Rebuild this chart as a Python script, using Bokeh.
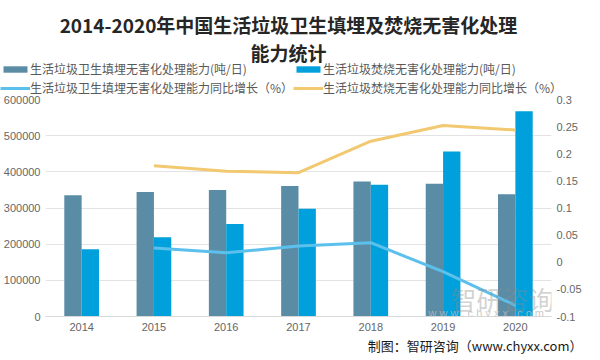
from bokeh.plotting import figure
from bokeh.layouts import column
from bokeh.models import (ColumnDataSource, Range1d, LinearAxis, FixedTicker,
                          NumeralTickFormatter, Legend, LegendItem, Label)
from bokeh.transform import dodge
from bokeh.embed import file_html
from bokeh.resources import INLINE

# ---- data ----
years = ["2014", "2015", "2016", "2017", "2018", "2019", "2020"]
landfill = [335316, 344136, 350103, 360524, 373498, 367013, 337848]
incineration = [185957, 219080, 255850, 298062, 364595, 456499, 567804]
growth_years = ["2015", "2016", "2017", "2018", "2019", "2020"]
landfill_growth = [0.0263, 0.0173, 0.0298, 0.0360, -0.0174, -0.0795]
incin_growth = [0.1781, 0.1678, 0.1650, 0.2232, 0.2521, 0.2438]
left_ticks = [0, 100000, 200000, 300000, 400000, 500000, 600000]
right_ticks = [-0.1, -0.05, 0, 0.05, 0.1, 0.15, 0.2, 0.25, 0.3]

title_line1 = "2014-2020年中国生活垃圾卫生填埋及焚烧无害化处理"
title_line2 = "能力统计"
legend_labels = ["生活垃圾卫生填埋无害化处理能力(吨/日)",
                 "生活垃圾焚烧无害化处理能力(吨/日)",
                 "生活垃圾卫生填埋无害化处理能力同比增长（%）",
                 "生活垃圾焚烧无害化处理能力同比增长（%）"]
footer = "制图：智研咨询（www.chyxx.com）"

C_LAND = "#5b8ca6"
C_INC = "#00a0dc"
C_LAND_L = "#5cc0ec"
C_INC_L = "#f2c870"
CJK = "Noto Sans CJK SC"
TICKFONT = "Liberation Sans"

W = 584
H_HEAD = 95
H_MAIN = 240
H_FOOT = 20


def bare(h):
    f = figure(width=W, height=h, x_range=Range1d(0, W), y_range=Range1d(0, h),
               output_backend="svg", toolbar_location=None, title=None,
               x_axis_type=None, y_axis_type=None)
    f.min_border = 0
    f.min_border_left = f.min_border_right = f.min_border_top = f.min_border_bottom = 0
    f.outline_line_color = None
    f.xgrid.grid_line_color = None
    f.ygrid.grid_line_color = None
    f.background_fill_color = "white"
    f.border_fill_color = "white"
    f.frame_align = False
    return f


# ---------------- header: title + legend ----------------
head = bare(H_HEAD)
for txt, yy in ((title_line1, 71), (title_line2, 43)):
    head.add_layout(Label(x=288, y=yy, x_units="screen", y_units="screen", text=txt,
                          text_align="center", text_baseline="middle",
                          text_font=CJK, text_font_style="bold",
                          text_font_size="19px", text_color="#262626"))

# legend proxies (zero-size marks, used only for the legend swatches)
proxy = ColumnDataSource(dict(x=[0], y=[0]))
h1 = head.vbar(x="x", top="y", width=0, source=proxy, fill_color=C_LAND, line_color=None)
h2 = head.vbar(x="x", top="y", width=0, source=proxy, fill_color=C_INC, line_color=None)
h3 = head.line(x="x", y="y", source=proxy, line_color=C_LAND_L, line_width=3)
h4 = head.line(x="x", y="y", source=proxy, line_color=C_INC_L, line_width=3)

legend = Legend(items=[LegendItem(label=legend_labels[0], renderers=[h1]),
                       LegendItem(label=legend_labels[1], renderers=[h2]),
                       LegendItem(label=legend_labels[2], renderers=[h3]),
                       LegendItem(label=legend_labels[3], renderers=[h4])],
                orientation="horizontal", ncols=2, location=(0, -2))
legend.glyph_width = 30
legend.glyph_height = 8
legend.label_standoff = 0
legend.label_height = 19
legend.label_text_font = CJK
legend.label_text_font_size = "12px"
legend.label_text_color = "#595959"
legend.spacing = 0
legend.padding = 0
legend.margin = 0
legend.border_line_color = None
legend.background_fill_alpha = 0
head.add_layout(legend, "center")

# ---------------- main chart ----------------
src = ColumnDataSource(dict(year=years, landfill=landfill, incineration=incineration))
gsrc = ColumnDataSource(dict(year=growth_years, lg=landfill_growth, ig=incin_growth))

p = figure(width=W, height=H_MAIN, x_range=years, y_range=Range1d(0, 600000),
           output_backend="svg", toolbar_location=None, title=None)
p.extra_y_ranges = {"pct": Range1d(-0.1, 0.3)}
p.min_border_left = 42
p.min_border_right = 30
p.min_border_top = 4
p.min_border_bottom = 19
p.outline_line_color = None
p.background_fill_color = "white"
p.border_fill_color = "white"

r1 = p.vbar(x=dodge("year", -0.12, range=p.x_range), top="landfill", width=0.24,
            source=src, fill_color=C_LAND, line_color=None)
r2 = p.vbar(x=dodge("year", 0.12, range=p.x_range), top="incineration", width=0.24,
            source=src, fill_color=C_INC, line_color=None)
r3 = p.line(x="year", y="lg", source=gsrc, y_range_name="pct",
            line_color=C_LAND_L, line_width=3)
r4 = p.line(x="year", y="ig", source=gsrc, y_range_name="pct",
            line_color=C_INC_L, line_width=3)

p.xgrid.grid_line_color = None
p.ygrid.ticker = FixedTicker(ticks=left_ticks)
p.ygrid.grid_line_color = "#e3e3e3"
p.ygrid.grid_line_width = 1

for ax in (p.xaxis[0], p.yaxis[0]):
    ax.major_tick_line_color = None
    ax.minor_tick_line_color = None
    ax.major_tick_out = 0
    ax.major_tick_in = 0
    ax.major_label_text_font = TICKFONT
    ax.major_label_text_font_size = "11px"
    ax.major_label_text_color = "#666666"

p.xaxis.axis_line_color = "#d9d9d9"
p.xaxis.major_label_standoff = 6
p.yaxis.axis_line_color = None
p.yaxis.ticker = FixedTicker(ticks=left_ticks)
p.yaxis.formatter = NumeralTickFormatter(format="0")
p.yaxis.major_label_standoff = 5

ax2 = LinearAxis(y_range_name="pct", ticker=FixedTicker(ticks=right_ticks),
                 formatter=NumeralTickFormatter(format="0.[00]"))
ax2.axis_line_color = None
ax2.major_tick_line_color = None
ax2.minor_tick_line_color = None
ax2.major_tick_out = 0
ax2.major_tick_in = 0
ax2.major_label_standoff = 5
ax2.major_label_text_font = TICKFONT
ax2.major_label_text_font_size = "11px"
ax2.major_label_text_color = "#666666"
p.add_layout(ax2, "right")

# watermark (inside the plot area)
p.add_layout(Label(x=405, y=18, x_units="screen", y_units="screen", text="智研咨询",
                   text_align="left", text_baseline="middle", text_font=CJK,
                   text_font_size="26px", text_color="#8c8c8c", text_alpha=0.4))
p.add_layout(Label(x=383, y=4, x_units="screen", y_units="screen",
                   text="w w w . c h y x x . c o m",
                   text_align="left", text_baseline="middle", text_font=TICKFONT,
                   text_font_size="11px", text_color="#bdbdbd", text_alpha=0.8))

# ---------------- footer ----------------
foot = bare(H_FOOT)
foot.add_layout(Label(x=582, y=10, x_units="screen", y_units="screen", text=footer,
                      text_align="right", text_baseline="middle", text_font=CJK,
                      text_font_size="13px", text_color="#1a1a1a"))

layout = column(head, p, foot, spacing=0)
open("out.html", "w").write(file_html(layout, INLINE))
